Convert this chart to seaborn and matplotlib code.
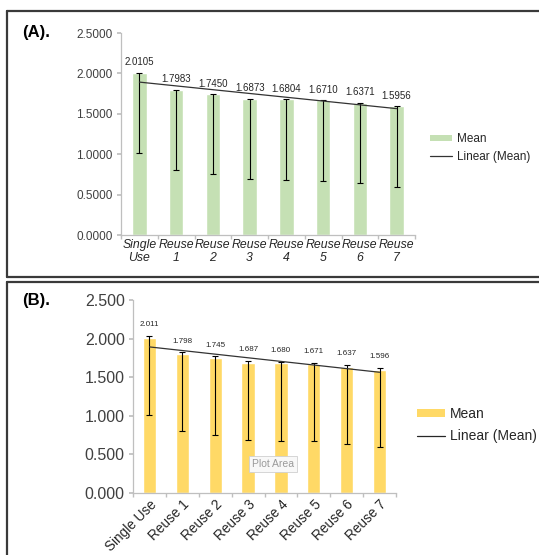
import numpy as np
import pandas as pd
import matplotlib
matplotlib.use("Agg")
import matplotlib.pyplot as plt
import seaborn as sns
from matplotlib.patches import Patch
from matplotlib.lines import Line2D
from matplotlib.ticker import FormatStrFormatter, FixedLocator

# ── Data ──────────────────────────────────────────────────────────────────────
cats_a = ["Single\nUse", "Reuse\n1", "Reuse\n2", "Reuse\n3",
          "Reuse\n4", "Reuse\n5", "Reuse\n6", "Reuse\n7"]
cats_b = ["Single Use", "Reuse 1", "Reuse 2", "Reuse 3",
          "Reuse 4", "Reuse 5", "Reuse 6", "Reuse 7"]
mean_a = [2.0105, 1.7983, 1.7450, 1.6873, 1.6804, 1.6710, 1.6371, 1.5956]
mean_b = [2.011, 1.798, 1.745, 1.687, 1.680, 1.671, 1.637, 1.596]
low_a = [1.01, 0.80, 0.75, 0.69, 0.68, 0.67, 0.64, 0.60]
high_a = [2.0105, 1.7983, 1.7450, 1.6873, 1.6804, 1.6710, 1.6371, 1.5956]
low_b = [1.01, 0.80, 0.75, 0.69, 0.68, 0.67, 0.64, 0.60]
high_b = [2.04, 1.82, 1.77, 1.71, 1.70, 1.69, 1.66, 1.62]

GREEN = "#C5E0B4"
YELLOW = "#FFD966"
AXIS_GREY = "#BFBFBF"

sns.set_theme(style="white")
plt.rcParams["font.family"] = ["Liberation Sans", "DejaVu Sans"]

fig = plt.figure(figsize=(5.39, 5.55), dpi=100)
W, H = 539, 555


def fr(x0, y_top, x1, y_bot):
    """pixel box -> figure fraction [l, b, w, h]"""
    return [x0 / W, 1 - y_bot / H, (x1 - x0) / W, (y_bot - y_top) / H]


def panel(ax, cats, means, low, high, color, fmt_tick, fmt_lab,
          lab_size, lab_off, tick_size, xt_size, rot, italic):
    df = pd.DataFrame({"cat": cats, "mean": means})
    sns.barplot(data=df, x="cat", y="mean", color=color, width=0.4,
                saturation=1, ax=ax)
    x = np.arange(len(cats))
    m = np.array(means)
    yerr = np.vstack([m - np.array(low), np.array(high) - m])
    ax.errorbar(x, m, yerr=yerr, fmt="none", ecolor="black",
                elinewidth=0.8, capsize=2.5, capthick=0.8)
    k, b = np.polyfit(x, m, 1)
    ax.plot([x[0], x[-1]], [b, b + k * x[-1]], color="#333333", lw=0.9)
    for xi, yi, hi in zip(x, means, high):
        ax.annotate(fmt_lab.format(yi), (xi, max(yi, hi)), xytext=(0, lab_off),
                    textcoords="offset points", ha="center", va="center",
                    fontsize=lab_size, color="#262626")
    ax.set_xlim(-0.5, len(cats) - 0.5)
    ax.set_ylim(0, 2.5)
    ax.set_yticks(np.arange(0, 2.51, 0.5))
    ax.yaxis.set_major_formatter(FormatStrFormatter(fmt_tick))
    ax.set_xlabel("")
    ax.set_ylabel("")
    for s in ["top", "right"]:
        ax.spines[s].set_visible(False)
    for s in ["left", "bottom"]:
        ax.spines[s].set_color(AXIS_GREY)
        ax.spines[s].set_linewidth(0.9)
    ax.xaxis.set_minor_locator(FixedLocator(np.arange(-0.5, len(cats), 1.0)))
    ax.tick_params(axis="x", which="major", length=0, pad=3,
                   labelsize=xt_size, labelcolor="#262626")
    ax.tick_params(axis="x", which="minor", length=3, color=AXIS_GREY,
                   direction="out", bottom=True)
    ax.tick_params(axis="y", length=3, color=AXIS_GREY, direction="out",
                   left=True, labelsize=tick_size, labelcolor="#404040", pad=3)
    for t in ax.get_xticklabels():
        if italic:
            t.set_style("italic")
            t.set_linespacing(1.1)
        if rot:
            t.set_rotation(rot)
            t.set_ha("right")
            t.set_rotation_mode("anchor")


# ── Panel A ───────────────────────────────────────────────────────────────────
ax_a = fig.add_axes(fr(121, 33, 415, 235))
panel(ax_a, cats_a, mean_a, low_a, high_a, GREEN, "%.4f", "{:.4f}",
      7, 7.5, 8.5, 8.8, 0, True)

# ── Panel B ───────────────────────────────────────────────────────────────────
ax_b = fig.add_axes(fr(133, 300, 396, 493))
panel(ax_b, cats_b, mean_b, low_b, high_b, YELLOW, "%.3f", "{:.3f}",
      5.8, 8, 11.5, 9.8, 45, False)

# ── Legends ───────────────────────────────────────────────────────────────────
h_a = [Patch(facecolor=GREEN, edgecolor="none"),
       Line2D([], [], color="#333333", lw=0.9)]
fig.legend(h_a, ["Mean", "Linear (Mean)"], loc="center left",
           bbox_to_anchor=(430 / W, 1 - 148 / H), frameon=False,
           fontsize=8.5, handlelength=1.9, handleheight=0.45,
           handletextpad=0.35, labelspacing=0.45, borderpad=0,
           borderaxespad=0, labelcolor="#262626")
h_b = [Patch(facecolor=YELLOW, edgecolor="none"),
       Line2D([], [], color="#262626", lw=0.9)]
fig.legend(h_b, ["Mean", "Linear (Mean)"], loc="center left",
           bbox_to_anchor=(417 / W, 1 - 425 / H), frameon=False,
           fontsize=10, handlelength=2.0, handleheight=0.45,
           handletextpad=0.35, labelspacing=0.6, borderpad=0,
           borderaxespad=0, labelcolor="#262626")

# ── Panel labels, frames, tooltip ─────────────────────────────────────────────
fig.text(22 / W, 1 - 33 / H, "(A).", fontsize=12, fontweight="bold",
         va="center", ha="left", color="black")
fig.text(22 / W, 1 - 300 / H, "(B).", fontsize=12, fontweight="bold",
         va="center", ha="left", color="black")

frame_kw = dict(color="#3A3A3A", lw=1.6, transform=fig.transFigure)
fig.add_artist(Line2D([7 / W, 1.0], [1 - 11 / H, 1 - 11 / H], **frame_kw))
fig.add_artist(Line2D([7 / W, 7 / W], [1 - 11 / H, 1 - 277 / H], **frame_kw))
fig.add_artist(Line2D([7 / W, 1.0], [1 - 277 / H, 1 - 277 / H], **frame_kw))
fig.add_artist(Line2D([7 / W, 1.0], [1 - 282 / H, 1 - 282 / H], **frame_kw))
fig.add_artist(Line2D([7 / W, 7 / W], [1 - 282 / H, 0.0], **frame_kw))

fig.text(273 / W, 1 - 464 / H, "Plot Area", fontsize=7.5, color="#9A9A9A",
         ha="center", va="center",
         bbox=dict(boxstyle="square,pad=0.3", facecolor="#F8F8F8",
                   edgecolor="#CFCFCF", lw=0.6))

fig.savefig("out.png", dpi=100)
